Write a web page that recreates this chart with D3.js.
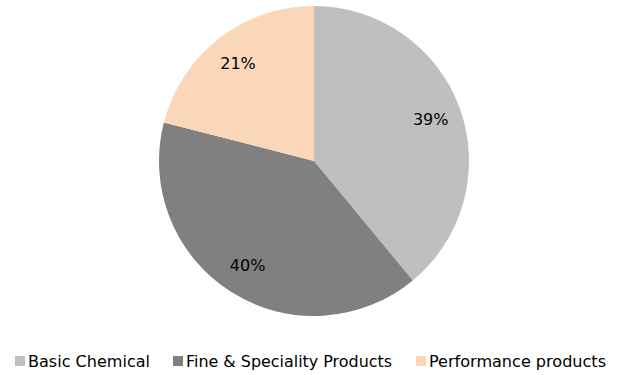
<!DOCTYPE html>
<html><head><meta charset="utf-8">
<script src="https://cdn.jsdelivr.net/npm/d3@7"></script>
<style>body{margin:0;background:#fff;} text{font-family:"DejaVu Sans",sans-serif;}</style>
</head><body>
<svg id="c" width="618" height="375"></svg>
<script>
const categories = ["Basic Chemical", "Fine & Speciality Products", "Performance products"];
const values = [39, 40, 21];
const labels = ["39%", "40%", "21%"];
const colors = ["#bfbfbf", "#808080", "#fbd7b9"];

const svg = d3.select("#c");
const cx = 314, cy = 161, r = 155;
const pie = d3.pie().sort(null).value(d => d)(values);
const arc = d3.arc().innerRadius(0).outerRadius(r);
const labelArc = d3.arc().innerRadius(r * 0.8).outerRadius(r * 0.8);
const g = svg.append("g").attr("transform", `translate(${cx},${cy})`);
g.selectAll("path").data(pie).join("path")
  .attr("d", arc).attr("fill", (d, i) => colors[i]);
g.selectAll("text").data(pie).join("text")
  .attr("transform", d => `translate(${labelArc.centroid(d)})`)
  .attr("text-anchor", "middle").attr("dy", "0.35em")
  .attr("font-size", 16).attr("fill", "#000")
  .text((d, i) => labels[i]);

const legX = [15, 173, 416];
const legW = [122, 206, 177];
const leg = svg.append("g");
categories.forEach((c, i) => {
  leg.append("rect").attr("x", legX[i]).attr("y", 356).attr("width", 10).attr("height", 10).attr("fill", colors[i]);
  leg.append("text").attr("x", legX[i] + 13).attr("y", 367).attr("font-size", 16).attr("fill", "#000")
    .attr("textLength", legW[i]).attr("lengthAdjust", "spacingAndGlyphs").text(c);
});
</script>
</body></html>
